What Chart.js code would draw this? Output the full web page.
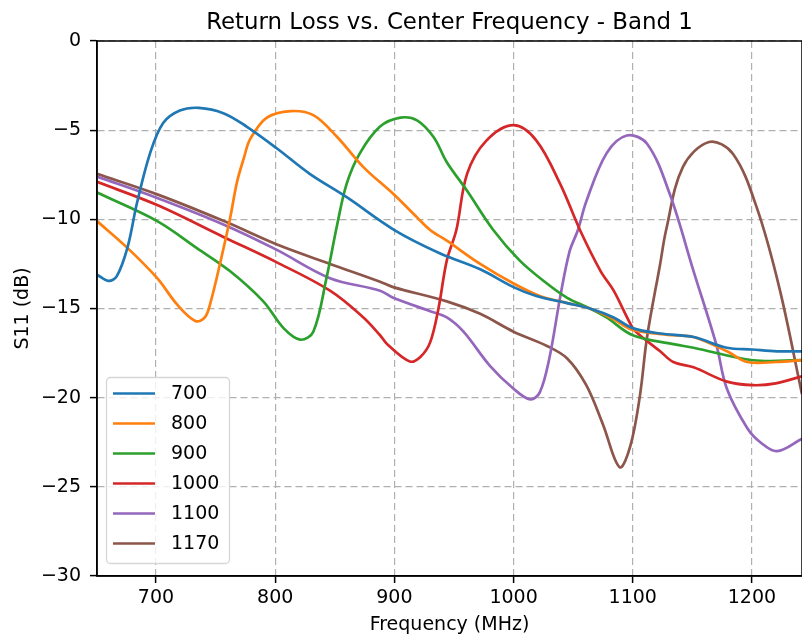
<!DOCTYPE html>
<html>
<head>
<meta charset="utf-8">
<script src="https://cdn.jsdelivr.net/npm/chart.js@4.4.1/dist/chart.umd.min.js"></script>
<style>
    html, body { margin: 0; padding: 0; background: #fff; }
    #chart { display: block; }
</style>
</head>
<body>
<canvas id="chart" width="802" height="642"></canvas>
<script>
// values (MHz, dB)
const f700 = [650.5, 660, 667, 676, 684, 695, 706, 720, 736, 757, 776, 801, 829, 860, 900, 938, 972, 1000, 1019, 1045, 1064, 1084, 1100, 1123, 1151, 1179, 1200, 1221, 1242];
const s700 = [-13.1, -13.45, -13.2, -11.6, -9.1, -6.3, -4.6, -3.9, -3.75, -4.06, -4.8, -6.0, -7.45, -8.76, -10.6, -11.9, -12.8, -13.8, -14.3, -14.7, -15.0, -15.5, -16.1, -16.4, -16.6, -17.2, -17.3, -17.4, -17.4];

const f800 = [650.5, 676, 701, 718, 733, 741, 746, 754, 762, 768, 774, 779, 793, 813, 832, 852, 874, 899, 919, 930, 944, 972, 1000, 1022, 1045, 1064, 1084, 1100, 1134, 1151, 1179, 1196, 1220, 1242];
const s800 = [-10.1, -11.6, -13.3, -14.8, -15.7, -15.5, -14.6, -12.4, -10.0, -7.9, -6.5, -5.5, -4.3, -3.93, -4.16, -5.38, -7.07, -8.57, -9.89, -10.6, -11.2, -12.5, -13.6, -14.3, -14.7, -15.0, -15.6, -16.2, -16.5, -16.6, -17.4, -18.0, -18.0, -17.9];

const f900 = [650.5, 701, 734, 762, 790, 807, 821, 832, 843, 852, 860, 871, 888, 905, 919, 933, 944, 961, 983, 1005, 1028, 1045, 1064, 1078, 1100, 1134, 1151, 1201, 1242];
const s900 = [-8.5, -10.1, -11.6, -12.9, -14.6, -16.1, -16.75, -16.3, -13.3, -10.3, -8.0, -6.3, -4.8, -4.3, -4.45, -5.4, -6.8, -8.4, -10.6, -12.3, -13.6, -14.4, -15.0, -15.5, -16.5, -17.0, -17.2, -17.9, -17.9];

const f1000 = [650.5, 701, 757, 801, 846, 874, 888, 894, 913, 922, 930, 937, 944, 952, 961, 977, 1000, 1019, 1039, 1056, 1073, 1084, 1100, 1106, 1123, 1134, 1151, 1179, 1201, 1220, 1242];
const s1000 = [-7.9, -9.2, -11.0, -12.4, -14.0, -15.5, -16.5, -17.0, -17.97, -17.7, -16.9, -15.0, -12.3, -10.6, -7.45, -5.6, -4.72, -5.57, -8.0, -10.64, -12.9, -14.0, -16.1, -16.5, -17.4, -18.0, -18.3, -19.1, -19.3, -19.2, -18.8];

const f1100 = [650.5, 701, 757, 801, 846, 888, 899, 930, 944, 958, 980, 1000, 1014, 1022, 1030, 1039, 1047, 1054, 1061, 1078, 1095, 1112, 1131, 1151, 1170, 1179, 1196, 1207, 1221, 1242];
const s1100 = [-7.6, -8.8, -10.3, -11.7, -13.3, -14.0, -14.4, -15.15, -15.5, -16.3, -18.2, -19.5, -20.1, -19.7, -17.8, -14.4, -11.8, -10.6, -9.0, -6.3, -5.3, -5.76, -8.57, -12.9, -17.0, -19.5, -21.7, -22.5, -23.0, -22.3];

const f1170 = [650.5, 701, 757, 801, 846, 888, 899, 944, 972, 1000, 1028, 1045, 1061, 1075, 1089, 1098, 1106, 1112, 1123, 1128, 1142, 1164, 1184, 1204, 1223, 1242];
const s1170 = [-7.45, -8.6, -10.1, -11.4, -12.5, -13.5, -13.8, -14.6, -15.3, -16.3, -17.1, -17.8, -19.3, -21.5, -23.9, -22.7, -19.9, -16.6, -12.5, -10.6, -7.07, -5.66, -6.32, -9.33, -13.84, -19.8];

const seriesLabels = ['700', '800', '900', '1000', '1100', '1170'];
const seriesFreqs = [f700, f800, f900, f1000, f1100, f1170];
const seriesVals = [s700, s800, s900, s1000, s1100, s1170];
const colors = ['#1f77b4', '#ff7f0e', '#2ca02c', '#d62728', '#9467bd', '#8c564b'];

const xTicks = [700, 800, 900, 1000, 1100, 1200];
const yTicks = [-30, -25, -20, -15, -10, -5, 0];

const FONT = 'DejaVu Sans';

function minusLabel(v) {
    return v < 0 ? '\u2212' + Math.abs(v) : String(v);
}

const datasets = seriesLabels.map((label, i) => ({
    label: label,
    data: seriesFreqs[i].map((f, j) => ({ x: f, y: seriesVals[i][j] })),
    borderColor: colors[i],
    borderWidth: 2.7,
    pointRadius: 0,
    fill: false,
    tension: 0.35
}));

// title, spines and the legend box
const decorations = {
    id: 'decorations',
    afterDraw(chart) {
        const ctx = chart.ctx;
        const a = chart.chartArea;
        ctx.save();

        ctx.strokeStyle = '#000';
        ctx.lineWidth = 1.5;
        ctx.strokeRect(a.left, a.top, a.right - a.left, a.bottom - a.top);

        ctx.fillStyle = '#000';
        ctx.font = '22.9px "' + FONT + '"';
        ctx.textAlign = 'center';
        ctx.textBaseline = 'alphabetic';
        ctx.fillText('Return Loss vs. Center Frequency - Band 1', (a.left + a.right) / 2, 28.5);

        // legend
        const bx = 106.5, by = 377.5, bw = 123, bh = 186, r = 4;
        ctx.beginPath();
        ctx.moveTo(bx + r, by);
        ctx.lineTo(bx + bw - r, by);
        ctx.arcTo(bx + bw, by, bx + bw, by + r, r);
        ctx.lineTo(bx + bw, by + bh - r);
        ctx.arcTo(bx + bw, by + bh, bx + bw - r, by + bh, r);
        ctx.lineTo(bx + r, by + bh);
        ctx.arcTo(bx, by + bh, bx, by + bh - r, r);
        ctx.lineTo(bx, by + r);
        ctx.arcTo(bx, by, bx + r, by, r);
        ctx.closePath();
        ctx.fillStyle = 'rgba(255,255,255,0.8)';
        ctx.fill();
        ctx.lineWidth = 1.3;
        ctx.strokeStyle = '#d6d6d6';
        ctx.stroke();

        ctx.font = '19px "' + FONT + '"';
        ctx.textAlign = 'left';
        ctx.textBaseline = 'middle';
        seriesLabels.forEach((label, i) => {
            const y = 393.5 + i * 30;
            ctx.strokeStyle = colors[i];
            ctx.lineWidth = 2.7;
            ctx.beginPath();
            ctx.moveTo(113, y);
            ctx.lineTo(155, y);
            ctx.stroke();
            ctx.fillStyle = '#000';
            ctx.fillText(label, 171, y + 1);
        });
        ctx.restore();
    }
};

const gridOpts = { color: '#b0b0b0', lineWidth: 1.2, tickLength: 7, tickColor: '#000', tickWidth: 1.5, tickBorderDash: [] };
const borderOpts = { display: true, color: '#000', width: 1.5, dash: [7, 4] };

new Chart(document.getElementById('chart'), {
    type: 'line',
    data: { datasets: datasets },
    options: {
        responsive: false,
        animation: false,
        events: [],
        layout: { padding: { top: 41, left: 0, right: 0, bottom: 0 } },
        plugins: {
            legend: { display: false },
            title: { display: false },
            tooltip: { enabled: false }
        },
        scales: {
            x: {
                type: 'linear',
                min: 650.5,
                max: 1242,
                afterBuildTicks: s => { s.ticks = xTicks.map(v => ({ value: v })); },
                afterFit: s => { s.height = 66; },
                grid: gridOpts,
                border: borderOpts,
                ticks: { color: '#000', padding: 3.5, maxRotation: 0, font: { family: FONT, size: 19 }, callback: v => String(v) },
                title: { display: true, text: 'Frequency (MHz)', color: '#000', font: { family: FONT, size: 19 }, padding: { top: 0, bottom: 6 } }
            },
            y: {
                type: 'linear',
                min: -30,
                max: 0,
                afterBuildTicks: s => { s.ticks = yTicks.map(v => ({ value: v })); },
                afterFit: s => { s.width = 97; },
                grid: gridOpts,
                border: borderOpts,
                ticks: { color: '#000', padding: 9, font: { family: FONT, size: 19 }, callback: v => minusLabel(v) },
                title: { display: true, text: 'S11 (dB)', color: '#000', font: { family: FONT, size: 19 }, padding: { top: 12, bottom: 0 } }
            }
        }
    },
    plugins: [decorations]
});
</script>
</body>
</html>
